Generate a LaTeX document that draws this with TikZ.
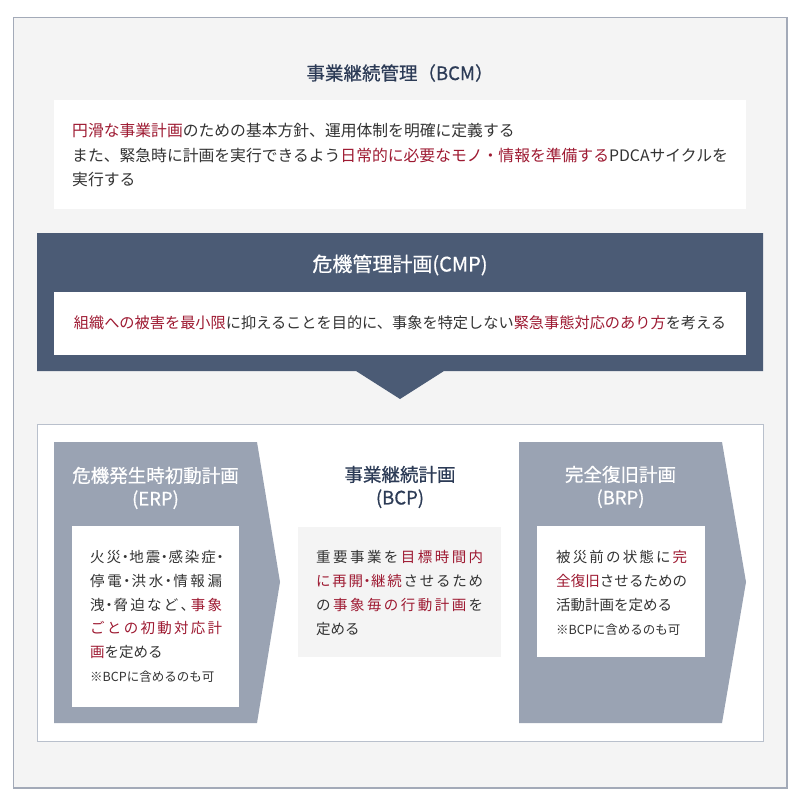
\documentclass[tikz,border=0pt]{standalone}
\usepackage{fontspec}
\setmainfont{Noto Sans CJK JP}
\newfontfamily\ttlfont{Noto Sans CJK JP}[FakeBold=0.6]
\definecolor{bggray}{HTML}{F4F4F4}
\definecolor{framegray}{HTML}{A3AAB8}
\definecolor{boxline}{HTML}{B9C0CC}
\definecolor{navy}{HTML}{4B5B75}
\definecolor{navytext}{HTML}{2C3B56}
\definecolor{slate}{HTML}{9AA3B3}
\definecolor{accent}{HTML}{9E1A32}
\definecolor{bodygray}{HTML}{333333}
\newcommand\hl[1]{\textcolor{accent}{#1}}
\newcommand\nd{\kern-.35em・\kern-.35em}
\newcommand\tn{、\kern-.45em}
\newcommand\jl[2]{\makebox[#1][s]{\spaceskip=0pt plus 1fil\relax #2}}

\begin{document}
\begin{tikzpicture}[x=1pt,y=-1pt,
  ttl/.style={font=\ttlfont\fontsize{18.5}{23}\selectfont, align=center, inner sep=0pt},
  bodytext/.style={font=\fontsize{15.8}{24.5}\selectfont, text=bodygray, align=left, inner sep=0pt},
  coltext/.style={font=\fontsize{14.5}{23.8}\selectfont, text=bodygray, align=left, inner sep=0pt, anchor=west},
  notetext/.style={font=\fontsize{12.5}{15}\selectfont, text=bodygray, inner sep=0pt, anchor=west}]
  \useasboundingbox (0,0) rectangle (800,805);
  %%%%% START %%%%%

  \draw[fill=bggray, draw=framegray, line width=1.3pt] (13.5,17.5) rectangle (787,788);

  % BCM
  \node[ttl, text=navytext] (bcmtitle) at (400,73) {事業継続管理（BCM）};
  \fill[white] (54,100) rectangle (746,209);
  \node[bodytext, anchor=west] (bcmtext) at (72,155)
    {\hl{円滑な事業計画}のための基本方針、運用体制を明確に定義する\\
     また、緊急時に計画を実行できるよう\hl{日常的に必要なモノ・情報を準備する}PDCAサイクルを\\
     実行する};

  % CMP
  \fill[navy] (37,233) -- (763,233) -- (763,371) -- (444,371) -- (400,399) -- (356,371) -- (37,371) -- cycle;
  \node[ttl, text=white, font=\ttlfont\fontsize{20}{24}\selectfont] (cmptitle) at (400,265) {危機管理計画(CMP)};
  \fill[white] (54,292) rectangle (746,355);
  \node[bodytext, font=\fontsize{15.2}{24}\selectfont] (cmptext) at (400,323)
    {\hl{組織への被害を最小限}に抑えることを目的に、事象を特定しない\hl{緊急事態対応のあり方}を考える};

  \draw[fill=white, draw=boxline, line width=0.9pt] (37,424) rectangle (763,741);

  % ERP
  \fill[slate] (54,442) -- (257,442) -- (280,582) -- (257,723) -- (54,723) -- cycle;
  \node[ttl, text=white] (erptitle) at (155.5,488) {危機発生時初動計画\\(ERP)};
  \fill[white] (72,526) rectangle (239,707);
  \node[coltext] (erptext) at (90,604.5)
    {\jl{132pt}{火 災 \nd{} 地 震 \nd{} 感 染 症 \nd}\\
     \jl{132pt}{停 電 \nd{} 洪 水 \nd{} 情 報 漏}\\
     \jl{132pt}{洩 \nd{} 脅 迫 な ど \tn{} \hl{事 象}}\\
     \jl{132pt}{\hl{ご と の 初 動 対 応 計}}\\
     \hl{画}を定める};
  \node[notetext] (erpnote) at (90,677) {※BCPに含めるのも可};

  % BCP
  \node[ttl, text=navytext] (bcptitle) at (400,487) {事業継続計画\\(BCP)};
  \fill[bggray] (298,527) rectangle (501,657);
  \node[coltext] (bcptext) at (316,593)
    {\jl{167pt}{重 要 事 業 を \hl{目 標 時 間 内}}\\
     \jl{167pt}{\hl{に 再 開 \nd{} 継 続} さ せ る た め}\\
     \jl{167pt}{の \hl{事 象 毎 の 行 動 計 画} を}\\
     定める};

  % BRP
  \fill[slate] (519,442) -- (722,442) -- (746,582) -- (722,723) -- (519,723) -- cycle;
  \node[ttl, text=white] (brptitle) at (620.5,487) {完全復旧計画\\(BRP)};
  \fill[white] (537,526) rectangle (705,657);
  \node[coltext] (brptext) at (556,581)
    {\jl{131pt}{被 災 前 の 状 態 に \hl{完}}\\
     \jl{131pt}{\hl{全 復 旧} さ せ る た め の}\\
     活動計画を定める};
  \node[notetext] (brpnote) at (556,630) {※BCPに含めるのも可};

  %%%%% END %%%%%
\end{tikzpicture}
\end{document}
